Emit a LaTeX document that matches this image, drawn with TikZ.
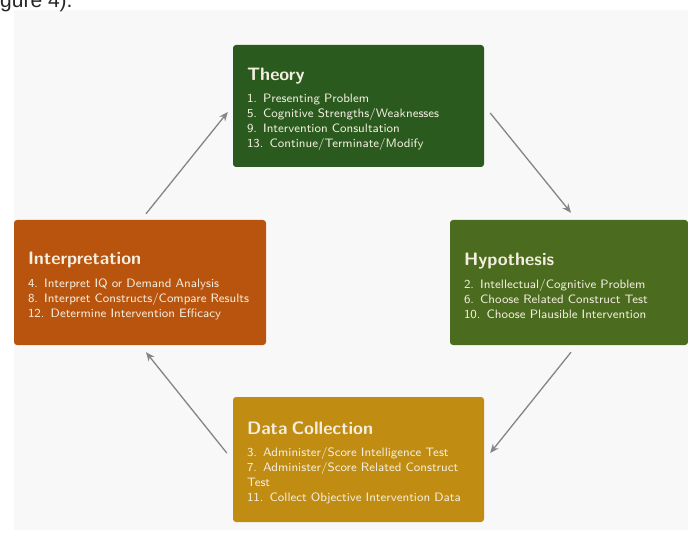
\documentclass[tikz,border=0pt]{standalone}
\usepackage{fontspec}
\newfontfamily\pagefont{Liberation Sans}
\newfontfamily\itemfont{lmsans8-regular}[Extension=.otf]
\usetikzlibrary{arrows.meta,calc}
\definecolor{theoryc}{HTML}{2A5A1E}
\definecolor{hypc}{HTML}{4B6B1F}
\definecolor{interpc}{HTML}{B9540E}
\definecolor{datac}{HTML}{C08C12}
\definecolor{boxtext}{HTML}{F3EEDF}
\definecolor{panelc}{HTML}{F8F8F8}
\definecolor{arrowc}{HTML}{858585}
\newcommand{\boxtitle}[1]{{\sffamily\bfseries\fontsize{18}{20}\selectfont\rule{0pt}{19pt}#1}\par\vspace{7.5pt}}
\tikzset{
  stagebox/.style={draw=none, rounded corners=3pt, text=boxtext, align=left,
    inner xsep=14pt, inner ysep=0pt, font=\itemfont\fontsize{12.2}{15}\selectfont},
  cyclearrow/.style={draw=arrowc, line width=1.3pt, -{Stealth[length=9pt,width=7.5pt]}}
}
\begin{document}
\begin{tikzpicture}[x=1pt,y=-1pt]
\useasboundingbox (0,0) rectangle (688,537);
\fill[white] (0,0) rectangle (688,537);
\fill[panelc] (14,10) rectangle (688,530);
\node[anchor=base west, font=\pagefont\fontsize{21}{21}\selectfont, text=black!85, inner sep=0pt] (pagetext) at (-17.5,8) {Figure 4).};

\node[stagebox, fill=theoryc, text width=223pt, minimum height=122pt] (theory) at (358.5,106)
  {\boxtitle{Theory}1.\enspace Presenting Problem\\5.\enspace Cognitive Strengths/Weaknesses\\9.\enspace Intervention Consultation\\13.\enspace Continue/Terminate/Modify};
\node[stagebox, fill=hypc, text width=210pt, minimum height=125pt] (hyp) at (569,282.5)
  {\boxtitle{Hypothesis}2.\enspace Intellectual/Cognitive Problem\\6.\enspace Choose Related Construct Test\\10.\enspace Choose Plausible Intervention};
\node[stagebox, fill=interpc, text width=224pt, minimum height=125pt] (interp) at (140,282.5)
  {\boxtitle{Interpretation}4.\enspace Interpret IQ or Demand Analysis\\8.\enspace Interpret Constructs/Compare Results\\12.\enspace Determine Intervention Efficacy};
\node[stagebox, fill=datac, text width=223pt, minimum height=125pt] (data) at (358.5,459.5)
  {\boxtitle{Data Collection}3.\enspace Administer/Score Intelligence Test\\7.\enspace Administer/Score Related Construct\\Test\\11.\enspace Collect Objective Intervention Data};

\draw[cyclearrow] ($(interp.north)+(6,-6)$) -- ($(theory.west)+(-5,6)$);
\draw[cyclearrow] ($(theory.east)+(6,7)$) -- ($(hyp.north)+(2,-7)$);
\draw[cyclearrow] ($(hyp.south)+(2,7)$) -- ($(data.east)+(6,-6.5)$);
\draw[cyclearrow] ($(data.west)+(-6,-6.5)$) -- ($(interp.south)+(6,7)$);
\end{tikzpicture}
\end{document}
